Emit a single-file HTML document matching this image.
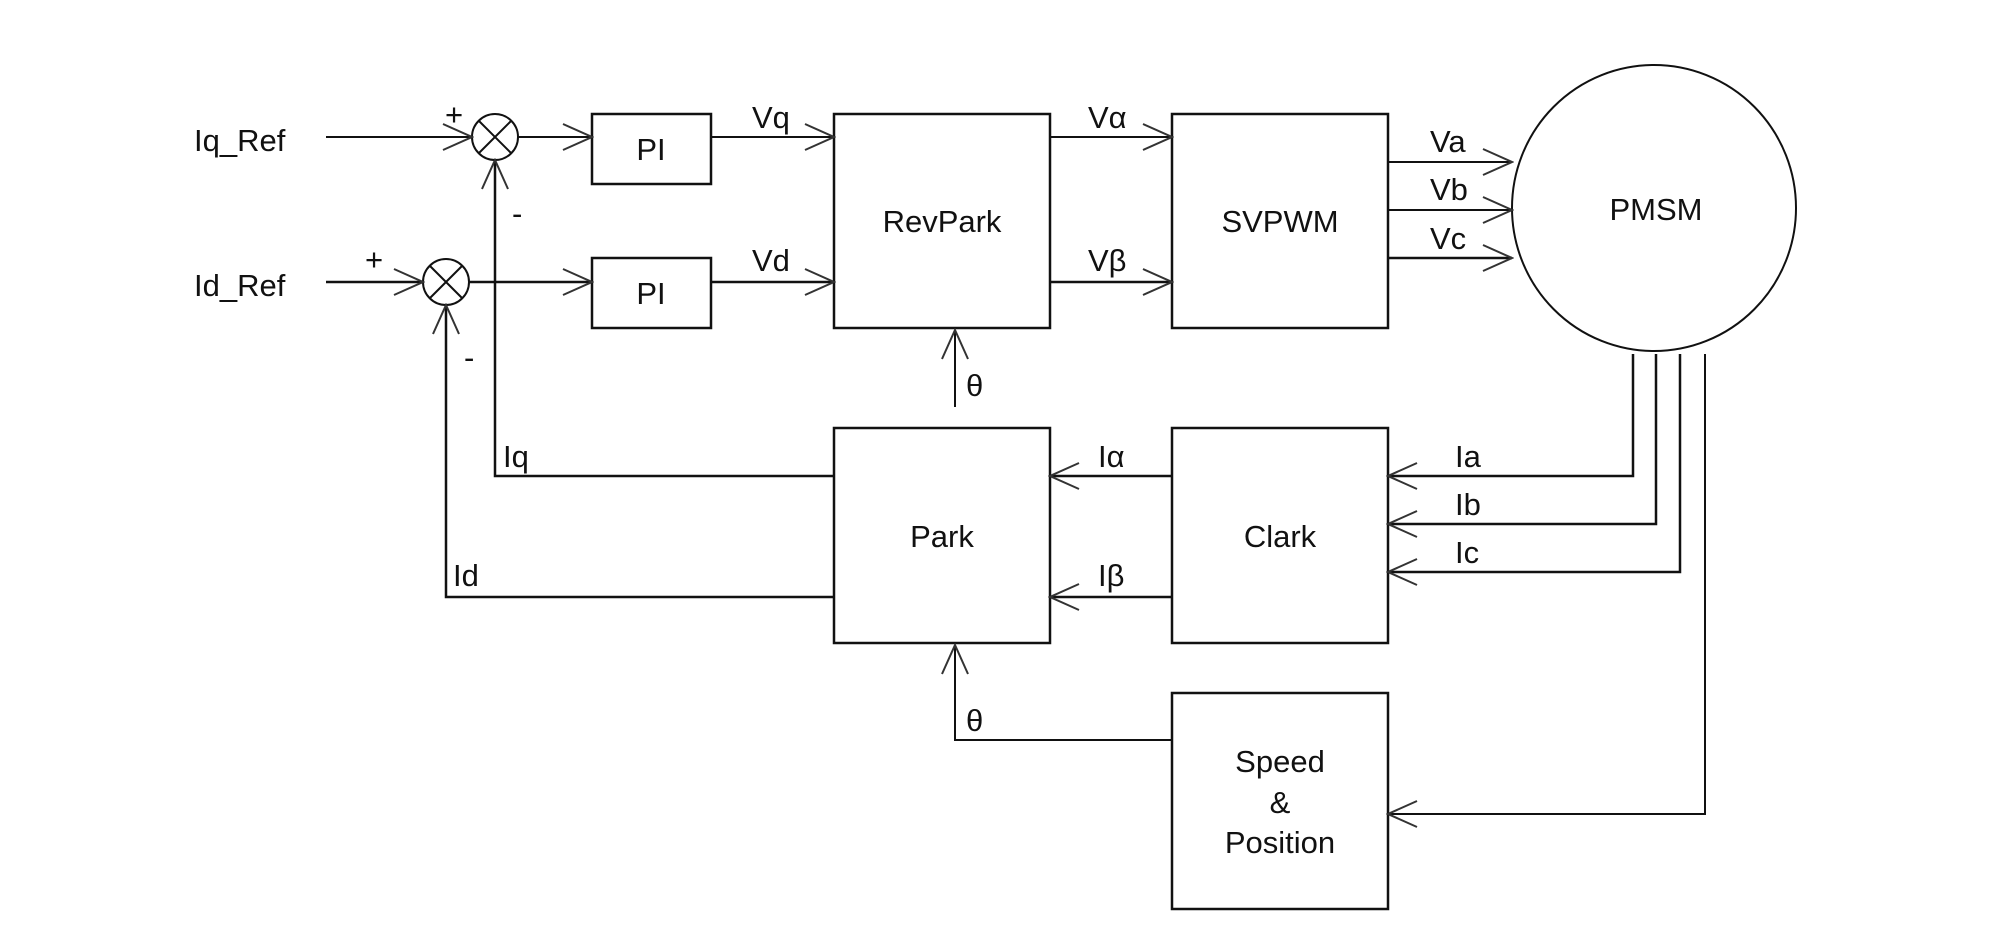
<!DOCTYPE html>
<html><head><meta charset="utf-8"><style>
html,body{margin:0;padding:0;background:#fff;}
svg{display:block}
text{font-family:"Liberation Sans",sans-serif;font-size:31px;fill:#111}
</style></head><body>
<svg width="2000" height="925" viewBox="0 0 2000 925" xmlns="http://www.w3.org/2000/svg">
<defs>
<marker id="a" markerWidth="32" markerHeight="32" refX="30" refY="16" orient="auto" markerUnits="userSpaceOnUse">
<path d="M1,3 L30,16 L1,29" fill="none" stroke="#333" stroke-width="2"/>
</marker>
</defs>
<g stroke="#111" stroke-width="2.5" fill="none">
<rect x="592" y="114" width="119" height="70"/>
<rect x="592" y="258" width="119" height="70"/>
<rect x="834" y="114" width="216" height="214"/>
<rect x="1172" y="114" width="216" height="214"/>
<rect x="834" y="428" width="216" height="215"/>
<rect x="1172" y="428" width="216" height="215"/>
<rect x="1172" y="693" width="216" height="216"/>
<ellipse cx="1654" cy="208" rx="142" ry="143" stroke-width="2"/>
<circle cx="495" cy="137" r="23" stroke-width="2"/>
<path d="M479,121 L511,153 M511,121 L479,153" stroke-width="2"/>
<circle cx="446" cy="282" r="23" stroke-width="2"/>
<path d="M430,266 L462,298 M462,266 L430,298" stroke-width="2"/>
<line x1="326" y1="137" x2="472" y2="137" marker-end="url(#a)" stroke-width="2"/>
<line x1="326" y1="282" x2="423" y2="282" marker-end="url(#a)"/>
<line x1="518" y1="137" x2="592" y2="137" marker-end="url(#a)" stroke-width="2"/>
<line x1="469" y1="282" x2="592" y2="282" marker-end="url(#a)"/>
<line x1="711" y1="137" x2="834" y2="137" marker-end="url(#a)" stroke-width="2"/>
<line x1="711" y1="282" x2="834" y2="282" marker-end="url(#a)"/>
<line x1="1050" y1="137" x2="1172" y2="137" marker-end="url(#a)" stroke-width="2"/>
<line x1="1050" y1="282" x2="1172" y2="282" marker-end="url(#a)"/>
<line x1="1388" y1="162" x2="1512" y2="162" marker-end="url(#a)" stroke-width="2"/>
<line x1="1388" y1="210" x2="1512" y2="210" marker-end="url(#a)" stroke-width="2"/>
<line x1="1388" y1="258" x2="1512" y2="258" marker-end="url(#a)"/>
<line x1="955" y1="407" x2="955" y2="330" marker-end="url(#a)" stroke-width="2"/>
<polyline points="834,476 495,476 495,160" marker-end="url(#a)"/>
<polyline points="834,597 446,597 446,305" marker-end="url(#a)"/>
<line x1="1172" y1="476" x2="1050" y2="476" marker-end="url(#a)"/>
<line x1="1172" y1="597" x2="1050" y2="597" marker-end="url(#a)"/>
<polyline points="1633,354 1633,476 1388,476" marker-end="url(#a)"/>
<polyline points="1656,354 1656,524 1388,524" marker-end="url(#a)"/>
<polyline points="1680,354 1680,572 1388,572" marker-end="url(#a)"/>
<polyline points="1705,354 1705,814 1388,814" marker-end="url(#a)" stroke-width="2"/>
<polyline points="1172,740 955,740 955,645" marker-end="url(#a)" stroke-width="2"/>
</g>
<text x="194" y="151">Iq_Ref</text>
<text x="194" y="296">Id_Ref</text>
<text x="445" y="125" font-size="24">+</text>
<text x="365" y="270" font-size="24">+</text>
<text x="512" y="224" font-size="24">-</text>
<text x="464" y="368" font-size="24">-</text>
<text x="651" y="160" text-anchor="middle">PI</text>
<text x="651" y="304" text-anchor="middle">PI</text>
<text x="752" y="128">Vq</text>
<text x="752" y="271">Vd</text>
<text x="942" y="232" text-anchor="middle">RevPark</text>
<text x="1280" y="232" text-anchor="middle">SVPWM</text>
<text x="1656" y="220" text-anchor="middle">PMSM</text>
<text x="942" y="547" text-anchor="middle">Park</text>
<text x="1280" y="547" text-anchor="middle">Clark</text>
<text x="1280" y="772" text-anchor="middle">Speed</text>
<text x="1280" y="813" text-anchor="middle">&amp;</text>
<text x="1280" y="853" text-anchor="middle">Position</text>
<text x="1088" y="128">Vα</text>
<text x="1088" y="271">Vβ</text>
<text x="1430" y="152">Va</text>
<text x="1430" y="200">Vb</text>
<text x="1430" y="249">Vc</text>
<text x="1098" y="467">Iα</text>
<text x="1098" y="586">Iβ</text>
<text x="1455" y="467">Ia</text>
<text x="1455" y="515">Ib</text>
<text x="1455" y="563">Ic</text>
<text x="503" y="467">Iq</text>
<text x="453" y="586">Id</text>
<text x="966" y="396">θ</text>
<text x="966" y="731">θ</text>
</svg>
</body></html>
